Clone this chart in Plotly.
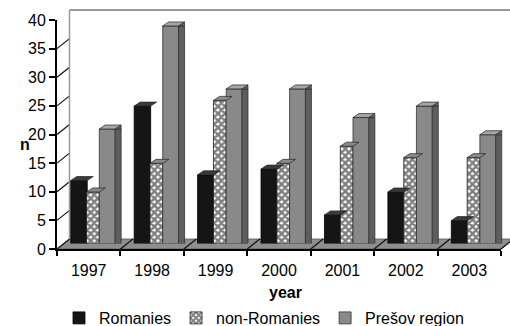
import plotly.graph_objects as go

# Data: counts per year for three groups
years = ["1997", "1998", "1999", "2000", "2001", "2002", "2003"]
romanies = [11, 24, 12, 13, 5, 9, 4]
non_romanies = [9, 14, 25, 14, 17, 15, 15]
presov = [20, 38, 27, 27, 22, 24, 19]
y_ticks = [0, 5, 10, 15, 20, 25, 30, 35, 40]

FONT = "Liberation Sans, Arial, sans-serif"

# Canvas and plot-area geometry (pixels)
W, H = 510, 326
L, R, T, B = 57, 0, 10, 77
PW, PH = W - L - R, H - T - B
FRONT_W = 444          # width of front category axis
FRONT_H = 229          # height of front value axis (0..40)
CAT_PX = FRONT_W / len(years)

# depth shifts for the pseudo-3D look
BAR_DX, BAR_DY = 5.5, 4.5     # columns sit half way into the box
BACK_DX, BACK_DY = 12.5, 10   # back wall

idx = list(range(len(years)))
widths = [0.26, 0.20, 0.25]
offsets = [-0.37, -0.12, 0.08]
side_px, top_px = 6, 4
side_w = side_px / CAT_PX

fig = go.Figure()

# Romanies
fig.add_trace(go.Bar(
    x=idx, y=romanies, name="Romanies", width=widths[0], offset=offsets[0],
    marker=dict(color="#151515", line=dict(color="#000", width=0.8)),
    xaxis="x2", yaxis="y2"))
# non-Romanies (checked fill)
fig.add_trace(go.Bar(
    x=idx, y=non_romanies, name="non-Romanies", width=widths[1], offset=offsets[1],
    marker=dict(color="#ffffff", line=dict(color="#222", width=0.8),
                pattern=dict(shape="x", fgcolor="#000", bgcolor="#fff",
                             size=5, solidity=0.72)),
    xaxis="x2", yaxis="y2"))
# Prešov region
fig.add_trace(go.Bar(
    x=idx, y=presov, name="Prešov region", width=widths[2], offset=offsets[2],
    marker=dict(color="#898989", line=dict(color="#333", width=0.8)),
    xaxis="x2", yaxis="y2"))
# side faces of the Prešov columns
fig.add_trace(go.Bar(
    x=idx, y=presov, width=side_w, offset=offsets[2] + widths[2],
    marker=dict(color="#5e5e5e", line=dict(color="#333", width=0.8)),
    showlegend=False, hoverinfo="skip", xaxis="x2", yaxis="y2"))

# holder trace so the front category axis is laid out
fig.add_trace(go.Scatter(x=years, y=[None] * len(years), mode="markers",
                         showlegend=False, hoverinfo="skip",
                         xaxis="x3", yaxis="y3"))

shapes = []
top_colors = ["#3a3a3a", "#8a8a8a", "#a6a6a6"]
for s, vals in enumerate([romanies, non_romanies, presov]):
    off, bw_px = offsets[s], widths[s] * CAT_PX
    for i, v in zip(idx, vals):
        # top face of each column
        shapes.append(dict(
            type="path", xref="x2", yref="y2", xsizemode="pixel", ysizemode="pixel",
            xanchor=i + off, yanchor=v,
            path=f"M0,0 L{bw_px:.1f},0 L{bw_px + side_px:.1f},{top_px} L{side_px},{top_px} Z",
            fillcolor=top_colors[s], line=dict(color="#222", width=0.7), layer="above"))
        if s == 2:
            # slanted top of the side face
            shapes.append(dict(
                type="path", xref="x2", yref="y2", xsizemode="pixel", ysizemode="pixel",
                xanchor=i + off + widths[s], yanchor=v,
                path=f"M0,0 L{side_px},{top_px} L{side_px},0 Z",
                fillcolor="#5e5e5e", line=dict(color="#333", width=0.7), layer="above"))


def px_to_paper_x(px):
    return (px - L) / PW


def px_to_paper_y(py):
    return (T + PH - py) / PH


# floor of the box
fy0 = px_to_paper_y(T + PH)
fy1 = px_to_paper_y(T + PH - BACK_DY)
fx0, fx1 = px_to_paper_x(L), px_to_paper_x(L + FRONT_W)
bx0, bx1 = px_to_paper_x(L + BACK_DX), px_to_paper_x(L + FRONT_W + BACK_DX)
shapes.append(dict(type="path", xref="paper", yref="paper", layer="below",
                   path=f"M{fx0},{fy0} L{fx1},{fy0} L{bx1},{fy1} L{bx0},{fy1} Z",
                   fillcolor="#8e8e8e", line=dict(color="#555", width=0.8)))
# floor lines at category boundaries
for k in range(1, len(years) + 1):
    x0 = px_to_paper_x(L + k * CAT_PX)
    x1 = px_to_paper_x(L + k * CAT_PX + BACK_DX)
    shapes.append(dict(type="line", xref="paper", yref="paper", layer="below",
                       x0=x0, y0=fy0, x1=x1, y1=fy1,
                       line=dict(color="#111", width=1.2)))
# side wall lines linking the value ticks to the back wall
for t in y_ticks:
    shapes.append(dict(type="line", xref="paper", yref="y3", layer="below",
                       x0=0, x1=px_to_paper_x(L + BACK_DX),
                       y0=0, y1=BACK_DY, ysizemode="pixel", yanchor=t,
                       line=dict(color="#111", width=1.2)))
# back wall left edge
shapes.append(dict(type="line", xref="paper", yref="paper", layer="below",
                   x0=px_to_paper_x(L + BACK_DX), x1=px_to_paper_x(L + BACK_DX),
                   y0=fy1, y1=1, line=dict(color="#999", width=1.5)))
# back wall top edge
shapes.append(dict(type="line", xref="paper", yref="paper", layer="below",
                   x0=px_to_paper_x(L + BACK_DX), x1=1, y0=1, y1=1,
                   line=dict(color="#999", width=2)))

back_range_hi = -0.5 + (PW - BACK_DX) / CAT_PX

fig.update_layout(
    width=W, height=H,
    margin=dict(l=L, r=R, t=T, b=B, autoexpand=False),
    paper_bgcolor="white", plot_bgcolor="rgba(0,0,0,0)",
    font=dict(family=FONT, size=16, color="#000"),
    barmode="overlay",
    showlegend=True,
    shapes=shapes,
    # back wall grid
    xaxis=dict(domain=[BACK_DX / PW, 1], range=[-0.5, back_range_hi],
               tickvals=[k + 0.5 for k in idx[:-1]], showticklabels=False,
               showgrid=True, gridcolor="#111", gridwidth=1.5, ticks="",
               zeroline=False, showline=False, anchor="y"),
    yaxis=dict(domain=[BACK_DY / PH, 1], range=[0, 40], tickvals=y_ticks,
               showticklabels=False, showgrid=True, gridcolor="#111", gridwidth=1.5,
               ticks="", zeroline=False, showline=False, anchor="x"),
    # columns
    xaxis2=dict(domain=[BAR_DX / PW, (FRONT_W + BAR_DX) / PW], range=[-0.5, 6.5],
                visible=False, anchor="y2"),
    yaxis2=dict(domain=[(BACK_DY - BAR_DY) / PH, (BACK_DY - BAR_DY + FRONT_H) / PH],
                range=[0, 40], visible=False, anchor="x2"),
    # front axes with ticks and labels
    xaxis3=dict(domain=[0, FRONT_W / PW], type="category", categoryorder="array",
                categoryarray=years, range=[-0.5, 6.5], tickson="boundaries",
                ticks="outside", ticklen=5, tickwidth=1.5, tickcolor="#000",
                showline=True, linecolor="#000", linewidth=2, showgrid=False,
                ticklabelstandoff=6, anchor="y3", tickfont=dict(size=16)),
    yaxis3=dict(domain=[0, FRONT_H / PH], range=[0, 40], tickvals=y_ticks,
                ticks="outside", ticklen=6, tickwidth=1.5, tickcolor="#000",
                showline=True, linecolor="#000", linewidth=2, showgrid=False,
                zeroline=False, anchor="x3", tickfont=dict(size=16)),
    legend=dict(orientation="h", x=px_to_paper_x(264), xanchor="center",
                y=px_to_paper_y(318), yanchor="middle",
                font=dict(size=16), itemwidth=30, tracegroupgap=0,
                bgcolor="rgba(0,0,0,0)"),
    annotations=[
        dict(text="<b>n</b>", xref="paper", yref="paper",
             x=px_to_paper_x(24.5), y=px_to_paper_y(144),
             xanchor="center", yanchor="middle", showarrow=False,
             font=dict(size=16)),
        dict(text="<b>year</b>", xref="paper", yref="paper",
             x=px_to_paper_x(285), y=px_to_paper_y(292),
             xanchor="center", yanchor="middle", showarrow=False,
             font=dict(size=16)),
    ],
)

fig.write_html("out.html")
